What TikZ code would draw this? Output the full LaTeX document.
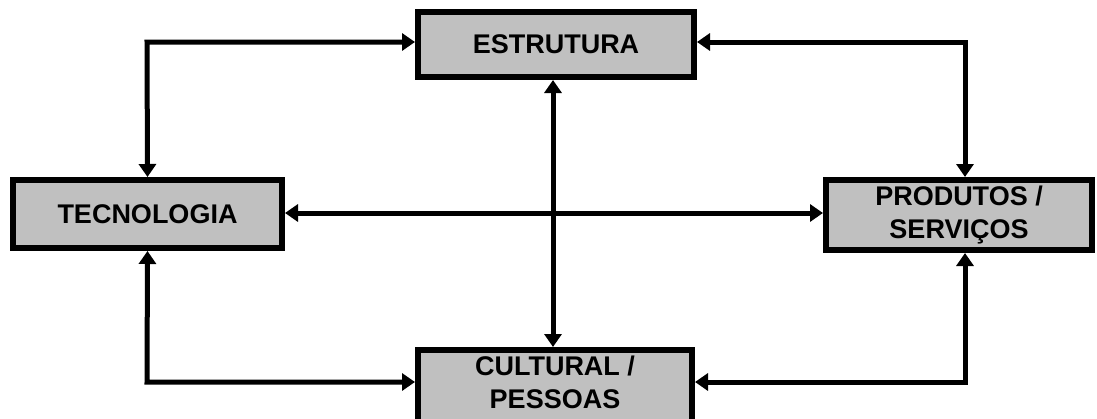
\documentclass[tikz,border=0pt]{standalone}
\usepackage{fontspec}
\setmainfont{Liberation Sans}
\usetikzlibrary{arrows.meta}
\definecolor{boxgray}{HTML}{C0C0C0}
\tikzset{
  box/.style={draw=black, line width=6pt, fill=boxgray, inner sep=0pt, align=center,
    font=\bfseries\fontsize{27}{33}\selectfont},
  lbl/.style={inner sep=0pt, align=center, font=\bfseries\fontsize{27}{33}\selectfont},
  link/.style={line width=5pt, {Triangle[length=13pt,width=17pt]}-{Triangle[length=13pt,width=17pt]}}
}
\begin{document}
\begin{tikzpicture}[x=1pt,y=-1pt]
\useasboundingbox (0,0) rectangle (1097,418);
\node[box, minimum width=276pt, minimum height=65pt] (estr) at (556,44.5) {ESTRUTURA};
\node[box, minimum width=269pt, minimum height=68pt] (tecn) at (147.5,214) {TECNOLOGIA};
\node[box, minimum width=266pt, minimum height=70pt] (prod) at (959,215) {PRODUTOS /\\SERVIÇOS};
\node[box, minimum width=274pt, minimum height=80pt] (cult) at (555,390) {};
\node[lbl] (cultxt) at (555,382) {CULTURAL /\\PESSOAS};
\coordinate (c1) at (147,42);
\coordinate (c2) at (965,42);
\coordinate (c3) at (147,382);
\coordinate (c4) at (965,382);
\draw[link] (tecn.north) -- (c1) -- (c1 -| estr.west);
\draw[link] (c2 |- prod.north) -- (c2) -- (c2 -| estr.east);
\draw[link] (553,0 |- estr.south) -- (553,0 |- cult.north);
\draw[link] (tecn.east |- 0,213) -- (prod.west |- 0,213);
\draw[link] (tecn.south) -- (c3) -- (c3 -| cult.west);
\draw[link] (c4 |- prod.south) -- (c4) -- (c4 -| cult.east);
\end{tikzpicture}
\end{document}
